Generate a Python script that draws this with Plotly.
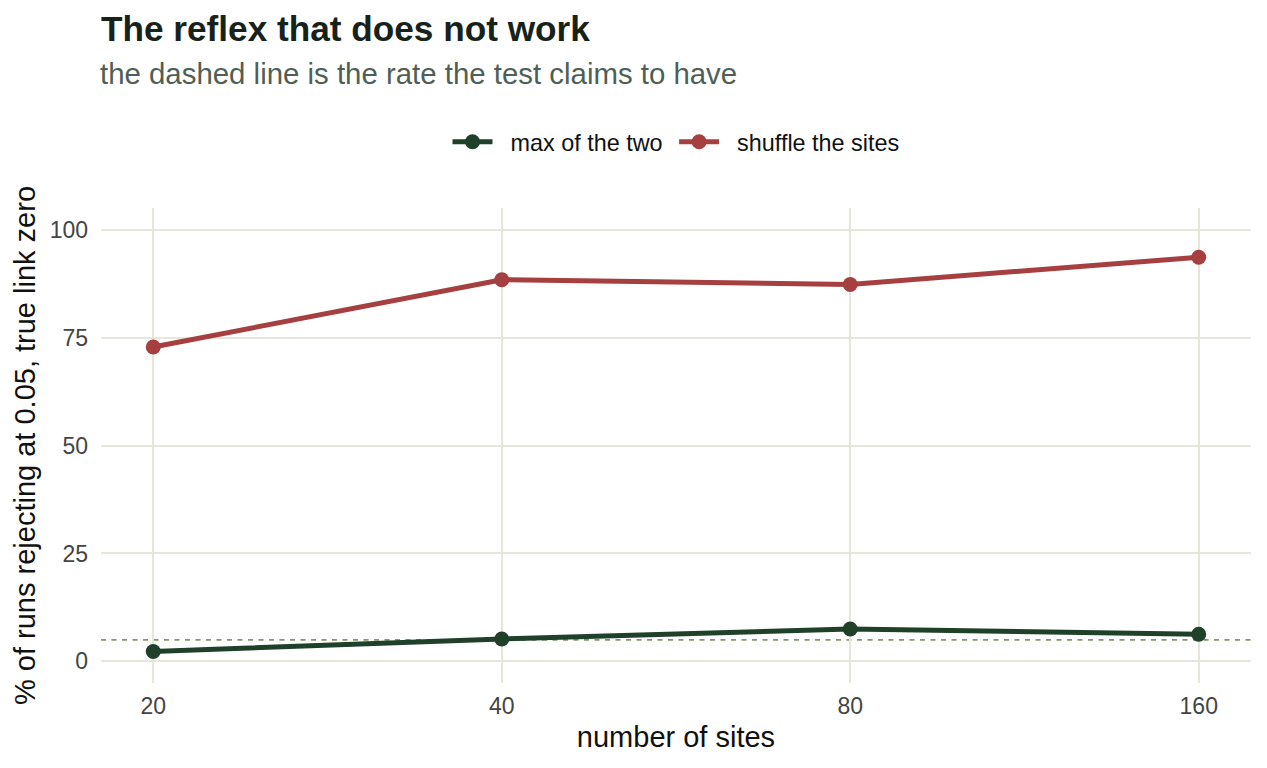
import math
import plotly.graph_objects as go

sites = [20, 40, 80, 160]
max_two = [2.3, 5.2, 7.5, 6.3]
shuffle = [72.8, 88.4, 87.3, 93.6]
nominal = 5
y_ticks = [0, 25, 50, 75, 100]
series_names = ["max of the two", "shuffle the sites"]

GREEN = "#1f4029"
RED = "#a63f3f"
GRID = "#e6e6da"
FONT = "Liberation Sans, Arial, sans-serif"
NB = "\u00a0"

fig = go.Figure()
fig.add_hline(y=nominal, line=dict(color="#84976c", width=1.7, dash="5px,5.5px"), layer="below")
fig.add_trace(go.Scatter(x=sites, y=max_two, mode="lines+markers", name=NB * 2 + series_names[0] + NB,
                         line=dict(color=GREEN, width=5), marker=dict(size=15, color=GREEN)))
fig.add_trace(go.Scatter(x=sites, y=shuffle, mode="lines+markers", name=NB * 2 + series_names[1],
                         line=dict(color=RED, width=5), marker=dict(size=15, color=RED)))

pad = 0.15 * math.log10(2)
fig.update_layout(
    width=1267, height=768,
    margin=dict(l=101, r=16, t=208, b=85),
    plot_bgcolor="white", paper_bgcolor="white",
    font=dict(family=FONT, color="#222"),
    title=dict(text="<b>The reflex that does not work</b>", x=101/1267, xanchor="left",
               y=1 - 29/768, yanchor="middle", font=dict(size=35.2, color="#17221b")),
    annotations=[dict(text="the dashed line is the rate the test claims to have", xref="paper", yref="paper",
                      x=0, y=1 + (208 - 73)/475, xanchor="left", yanchor="middle", showarrow=False,
                      xshift=-3, font=dict(size=29.4, color="#4f5f55"))],
    legend=dict(orientation="h", x=0.5, xanchor="center", y=1 + (208 - 142)/475, yanchor="middle",
                font=dict(size=23.4, color="#111"), itemwidth=40),
    showlegend=True,
)
fig.update_xaxes(type="log", range=[math.log10(20) - pad, math.log10(160) + pad],
                 tickvals=sites, ticktext=[str(s) for s in sites],
                 showgrid=True, gridcolor=GRID, gridwidth=1.5, zeroline=False, showline=False,
                 ticks="", ticklabelstandoff=7,
                 tickfont=dict(size=23, color="#444"),
                 title=dict(text="number of sites", font=dict(size=29, color="#111"), standoff=8))
fig.update_yaxes(range=[-5, 105], tickvals=y_ticks, showgrid=True, gridcolor=GRID, gridwidth=1.5,
                 zeroline=False, showline=False,
                 ticks="", ticklabelstandoff=12,
                 tickfont=dict(size=23, color="#444"),
                 title=dict(text="% of runs rejecting at 0.05, true link zero", font=dict(size=29, color="#111"),
                            standoff=5))
fig.write_html("out.html")
